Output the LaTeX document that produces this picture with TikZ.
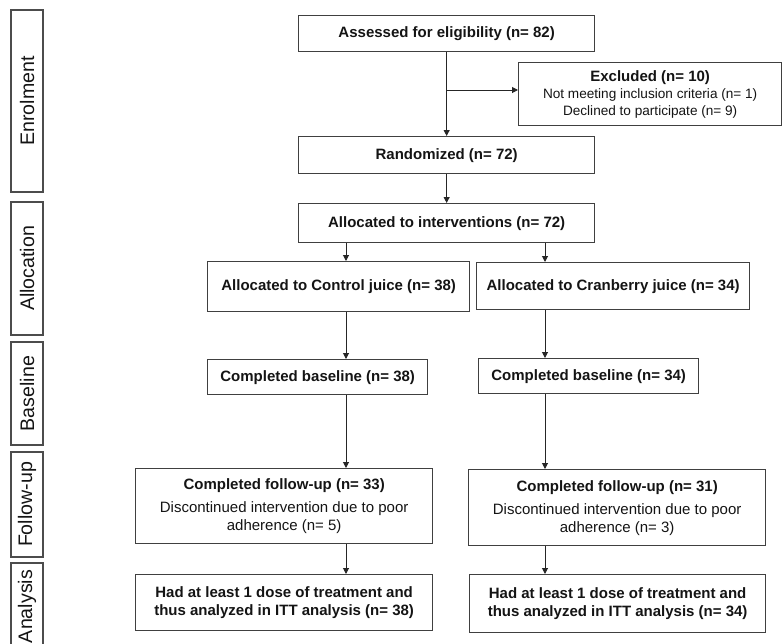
\documentclass[tikz,border=0pt]{standalone}
\usepackage{fontspec}
\setmainfont{Liberation Sans}
\usetikzlibrary{arrows.meta}
\begin{document}
\begin{tikzpicture}[x=1pt,y=-1pt,
  box/.style={draw=black!75, line width=1.3pt, text=black!92, align=center,
    inner sep=0pt, anchor=north west, font=\fontsize{15}{18}\selectfont\bfseries},
  stagebox/.style={draw=black!70, line width=1.2pt, text=black!92, rotate=90,
    inner sep=0pt, minimum height=32pt, font=\fontsize{19.6}{22}\selectfont},
  arr/.style={draw=black!85, line width=1pt, -{Triangle[length=6pt,width=6pt]}},
  regtext/.style={font=\fontsize{15}{18}\selectfont}
]
\useasboundingbox (0,0) rectangle (782,643);

% stage labels
\node[stagebox, minimum width=182pt] (s1) at (27,101) {Enrolment};
\node[stagebox, minimum width=133pt] (s2) at (27,268.5) {Allocation};
\node[stagebox, minimum width=103pt] (s3) at (27,393.5) {Baseline};
\node[stagebox, minimum width=105pt] (s4) at (27,504.5) {Follow-up};
\node[stagebox, minimum width=87pt] (s5) at (27,606.5) {Analysis};

% main boxes
\node[box, minimum width=296pt, minimum height=36pt] (assess) at (298,15) {Assessed for eligibility (n= 82)};
\node[box, minimum width=263pt, minimum height=63pt, font=\fontsize{13.6}{17}\selectfont] (excl) at (518,62)
  {{\fontsize{15}{17}\selectfont\bfseries Excluded (n= 10)}\\Not meeting inclusion criteria (n= 1)\\Declined to participate (n= 9)};
\node[box, minimum width=296pt, minimum height=37pt] (rand) at (298,136) {Randomized (n= 72)};
\node[box, minimum width=296pt, minimum height=39pt] (alloc) at (298,203) {Allocated to interventions (n= 72)};
\node[box, minimum width=262pt, minimum height=50pt] (ctrl) at (207,261) {Allocated to Control juice (n= 38)};
\node[box, minimum width=273pt, minimum height=47pt] (cran) at (476,262) {Allocated to Cranberry juice (n= 34)};
\node[box, minimum width=220pt, minimum height=35pt] (cbase) at (207,359) {Completed baseline (n= 38)};
\node[box, minimum width=220pt, minimum height=35pt] (rbase) at (478,358) {Completed baseline (n= 34)};
\node[box, minimum width=297pt, minimum height=75pt] (cfu) at (135,468)
  {Completed follow-up (n= 33)\\[5pt]{\mdseries Discontinued intervention due to poor}\\{\mdseries adherence (n= 5)}};
\node[box, minimum width=297pt, minimum height=76pt] (rfu) at (468,469)
  {Completed follow-up (n= 31)\\[5pt]{\mdseries Discontinued intervention due to poor}\\{\mdseries adherence (n= 3)}};
\node[box, minimum width=297pt, minimum height=56pt] (can) at (135,574)
  {Had at least 1 dose of treatment and\\thus analyzed in ITT analysis (n= 38)};
\node[box, minimum width=296pt, minimum height=58pt] (ran) at (469,574)
  {Had at least 1 dose of treatment and\\thus analyzed in ITT analysis (n= 34)};

% connectors
\coordinate (br) at (446,90);
\coordinate (cx) at (346,0);
\coordinate (rx) at (545,0);
\draw[arr] (assess) -- (rand);
\draw[arr] (br) -- (br -| excl.west);
\draw[arr] (rand) -- (alloc);
\draw[arr] (alloc.south -| cx) -- (ctrl.north -| cx);
\draw[arr] (alloc.south -| rx) -- (cran.north -| rx);
\draw[arr] (ctrl.south -| cx) -- (cbase.north -| cx);
\draw[arr] (cbase.south -| cx) -- (cfu.north -| cx);
\draw[arr] (cfu.south -| cx) -- (can.north -| cx);
\draw[arr] (cran.south -| rx) -- (rbase.north -| rx);
\draw[arr] (rbase.south -| rx) -- (rfu.north -| rx);
\draw[arr] (rfu.south -| rx) -- (ran.north -| rx);
\end{tikzpicture}
\end{document}
